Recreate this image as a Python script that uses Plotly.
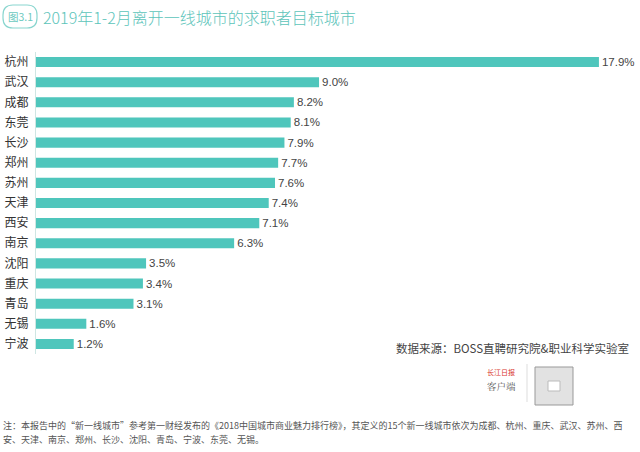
import plotly.graph_objects as go

cities = ["杭州", "武汉", "成都", "东莞", "长沙", "郑州", "苏州", "天津", "西安", "南京",
          "沈阳", "重庆", "青岛", "无锡", "宁波"]
values = [17.9, 9.0, 8.2, 8.1, 7.9, 7.7, 7.6, 7.4, 7.1, 6.3, 3.5, 3.4, 3.1, 1.6, 1.2]

title_text = "2019年1-2月离开一线城市的求职者目标城市"
badge_text = "图3.1"
source_text = "数据来源：BOSS直聘研究院&职业科学实验室"
note_line1 = "注：本报告中的“新一线城市”参考第一财经发布的《2018中国城市商业魅力排行榜》，其定义的15个新一线城市依次为成都、杭州、重庆、武汉、苏州、西"
note_line2 = "安、天津、南京、郑州、长沙、沈阳、青岛、宁波、东莞、无锡。"

FONT = "Noto Sans CJK SC"
TEAL = "#4FC6BC"

ML, MR, MT, MB = 36, 20, 52, 98
PW = 640 - ML - MR
PH = 452 - MT - MB

fig = go.Figure(go.Bar(
    x=values, y=cities, orientation="h",
    marker=dict(color=TEAL, line=dict(width=0)),
    texttemplate="%{x:.1f}%", textposition="outside",
    constraintext="none",
    textfont=dict(family="Liberation Sans, Arial", size=11.5, color="#444444"),
    cliponaxis=False,
))

fig.update_layout(
    width=640, height=452,
    margin=dict(l=ML, r=MR, t=MT, b=MB, autoexpand=False),
    paper_bgcolor="white", plot_bgcolor="white",
    bargap=0.5,
    showlegend=False,
    font=dict(family=FONT),
    xaxis=dict(range=[0, 18.57], visible=False, fixedrange=True, automargin=False),
    yaxis=dict(autorange="reversed", showgrid=False, zeroline=False, automargin=False,
               showline=True, linecolor="#cfe6e3", linewidth=1,
               ticks="", ticklabelstandoff=4,
               tickfont=dict(family=FONT, size=12, color="#333333")),
)

def px_x(x):
    return (x - ML) / PW
def px_y(y):
    return (452 - MB - y) / PH

# rounded badge
x0, x1, yt, yb, r = 3, 37, 5, 28, 10
p = lambda x, y: f"{px_x(x):.5f},{px_y(y):.5f}"
path = (f"M {p(x0 + r, yt)} L {p(x1 - r, yt)} Q {p(x1, yt)} {p(x1, yt + r)} "
        f"L {p(x1, yb - r)} Q {p(x1, yb)} {p(x1 - r, yb)} L {p(x0 + r, yb)} "
        f"Q {p(x0, yb)} {p(x0, yb - r)} L {p(x0, yt + r)} Q {p(x0, yt)} {p(x0 + r, yt)} Z")
fig.add_shape(type="path", xref="paper", yref="paper", path=path,
              line=dict(color="#8ad6cf", width=1.2), fillcolor="white")
fig.add_annotation(text=badge_text, xref="paper", yref="paper",
                   x=px_x(20), y=px_y(16.5), showarrow=False,
                   font=dict(family=FONT, size=10.5, color="#6cc9c0"),
                   xanchor="center", yanchor="middle")
fig.add_annotation(text=title_text, xref="paper", yref="paper",
                   x=px_x(41), y=px_y(17), showarrow=False,
                   font=dict(family=FONT, size=16, color="#5cc4ba", weight=300),
                   xanchor="left", yanchor="middle")

fig.add_annotation(text=source_text, xref="paper", yref="paper",
                   x=px_x(631), y=px_y(348), showarrow=False,
                   font=dict(family=FONT, size=11.5, color="#444444"),
                   xanchor="right", yanchor="middle")

# app logo / QR placeholder
fig.add_annotation(text="长江日报", xref="paper", yref="paper",
                   x=px_x(501), y=px_y(372), showarrow=False,
                   font=dict(family=FONT, size=7, color="#d9362b"),
                   xanchor="center", yanchor="middle")
fig.add_annotation(text="客户端", xref="paper", yref="paper",
                   x=px_x(501), y=px_y(386), showarrow=False,
                   font=dict(family="Noto Serif CJK SC, " + FONT, size=9.5, color="#555555"),
                   xanchor="center", yanchor="middle")
fig.add_shape(type="line", xref="paper", yref="paper",
              x0=px_x(527), x1=px_x(527), y0=px_y(402), y1=px_y(364),
              line=dict(color="#dddddd", width=1))
fig.add_shape(type="rect", xref="paper", yref="paper",
              x0=px_x(535), x1=px_x(573), y0=px_y(405), y1=px_y(367),
              line=dict(color="#999999", width=1), fillcolor="#e2e2e2")
fig.add_shape(type="rect", xref="paper", yref="paper",
              x0=px_x(548), x1=px_x(560), y0=px_y(391), y1=px_y(381),
              line=dict(color="#bbbbbb", width=1), fillcolor="white")

fig.add_annotation(text=note_line1, xref="paper", yref="paper",
                   x=px_x(1), y=px_y(425), showarrow=False,
                   font=dict(family=FONT, size=9, color="#555555"),
                   xanchor="left", yanchor="middle")
fig.add_annotation(text=note_line2, xref="paper", yref="paper",
                   x=px_x(1), y=px_y(440), showarrow=False,
                   font=dict(family=FONT, size=9, color="#555555"),
                   xanchor="left", yanchor="middle")

fig.write_html("out.html",
               config={"displayModeBar": False, "staticPlot": True},
               post_script="document.body.style.margin='0';document.body.style.overflow='hidden';")
